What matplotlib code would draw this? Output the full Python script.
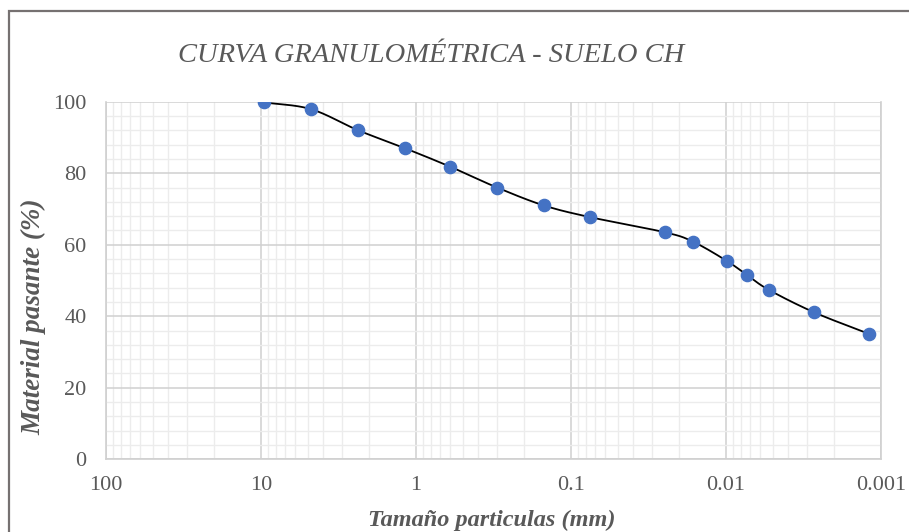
import numpy as np
import matplotlib
matplotlib.use("Agg")
import matplotlib.pyplot as plt
from matplotlib.ticker import LogLocator, FixedLocator, MultipleLocator, NullFormatter
from matplotlib.patches import Rectangle

# Datos de la curva granulometrica (tamiz + hidrometro)
tamano_mm = [9.5, 4.75, 2.36, 1.18, 0.6, 0.3, 0.15, 0.075,
             0.0249, 0.0164, 0.0099, 0.0073, 0.0053, 0.0027, 0.0012]
pasante = [99.8, 97.9, 92.0, 87.0, 81.8, 76.0, 71.0, 67.7,
           63.5, 60.9, 55.5, 51.5, 47.4, 41.1, 35.1]

x_ticks = [100, 10, 1, 0.1, 0.01, 0.001]
x_labels = ["100", "10", "1", "0.1", "0.01", "0.001"]

gris = "#595959"
azul = "#4472C4"
serif = ["Liberation Serif", "DejaVu Serif"]


def curva_suave(xs, ys, n=30):
    # spline tipo Catmull-Rom en escala log, para imitar la linea suavizada
    u = np.log10(np.array(xs, dtype=float))
    v = np.array(ys, dtype=float)
    pu = np.concatenate([[2 * u[0] - u[1]], u, [2 * u[-1] - u[-2]]])
    pv = np.concatenate([[2 * v[0] - v[1]], v, [2 * v[-1] - v[-2]]])
    out_u, out_v = [], []
    t = np.linspace(0, 1, n)
    for i in range(1, len(pu) - 2):
        c1u = pu[i] + (pu[i + 1] - pu[i - 1]) / 6
        c1v = pv[i] + (pv[i + 1] - pv[i - 1]) / 6
        c2u = pu[i + 1] - (pu[i + 2] - pu[i]) / 6
        c2v = pv[i + 1] - (pv[i + 2] - pv[i]) / 6
        b0, b1, b2, b3 = (1 - t) ** 3, 3 * (1 - t) ** 2 * t, 3 * (1 - t) * t ** 2, t ** 3
        out_u.extend(b0 * pu[i] + b1 * c1u + b2 * c2u + b3 * pu[i + 1])
        out_v.extend(b0 * pv[i] + b1 * c1v + b2 * c2v + b3 * pv[i + 1])
    return 10 ** np.array(out_u), np.array(out_v)


fig = plt.figure(figsize=(9.09, 5.32), dpi=100)
ax = fig.add_axes([106 / 909, 1 - 459.3 / 532, 775 / 909, 357.6 / 532])

# borde exterior del grafico
fig.patches.append(Rectangle((8.5 / 909, -0.1), 1.2, 1.1 - 11 / 532, transform=fig.transFigure,
                             fill=False, edgecolor="#767171", linewidth=1.6))

xs, ys = curva_suave(tamano_mm, pasante)
ax.plot(xs, ys, color="black", linewidth=1.3, zorder=3)
ax.plot(tamano_mm, pasante, linestyle="none", marker="o", markersize=8.8,
        color=azul, zorder=4)

ax.set_xscale("log")
ax.set_xlim(100, 0.001)
ax.set_ylim(0, 100)
ax.xaxis.set_major_locator(FixedLocator(x_ticks))
ax.set_xticklabels(x_labels)
ax.xaxis.set_minor_locator(LogLocator(base=10, subs=np.arange(2, 10), numticks=20))
ax.xaxis.set_minor_formatter(NullFormatter())
ax.yaxis.set_major_locator(MultipleLocator(20))
ax.yaxis.set_minor_locator(MultipleLocator(4))

ax.grid(which="major", color="#d0d0d0", linewidth=1.1)
ax.grid(which="minor", color="#ececec", linewidth=1.0)
ax.set_axisbelow(True)
ax.tick_params(which="both", length=0)
ax.tick_params(axis="x", pad=12)
ax.tick_params(axis="y", pad=14)
for lab in ax.get_xticklabels() + ax.get_yticklabels():
    lab.set_family(serif)
    lab.set_fontsize(16)
    lab.set_color(gris)

ax.spines["top"].set_visible(False)
for s in ["left", "bottom", "right"]:
    ax.spines[s].set_color("#d0d0d0")
    ax.spines[s].set_linewidth(1.2)

ax.set_xlabel("Tamaño particulas (mm)", family=serif, fontsize=17.5, style="italic",
              weight="bold", color=gris)
ax.xaxis.set_label_coords(0.498, -0.14)
ax.set_ylabel("Material pasante (%)", family=serif, fontsize=19.5, style="italic",
              weight="bold", color=gris)
ax.yaxis.set_label_coords(-0.077, 0.40)

fig.text(431 / 909, 1 - 55 / 532, "CURVA GRANULOMÉTRICA - SUELO CH", family=serif,
         fontsize=20.5, style="italic", color=gris, ha="center", va="center")

fig.savefig("out.png", dpi=100)
